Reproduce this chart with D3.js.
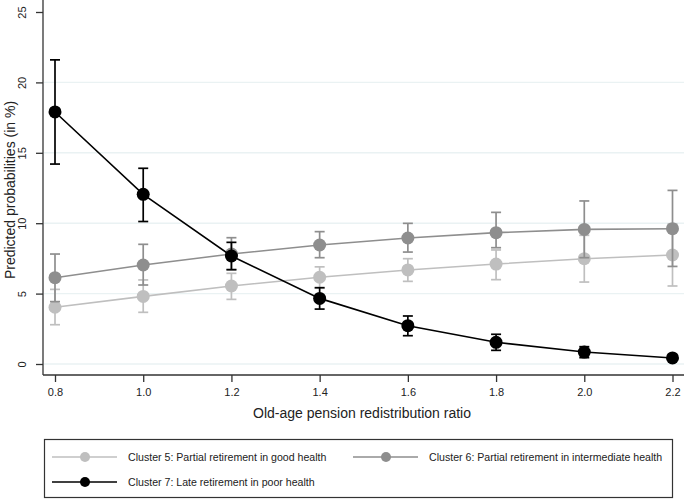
<!DOCTYPE html>
<html>
<head>
<meta charset="utf-8">
<script src="https://cdn.jsdelivr.net/npm/d3@7"></script>
<style>
  body { margin: 0; background: #fff; }
  svg { font-family: "Liberation Sans", Arial, sans-serif; }
</style>
</head>
<body>
<div id="chart"></div>
<script>
const ratios = [0.8, 1.0, 1.2, 1.4, 1.6, 1.8, 2.0, 2.2];

// predicted probabilities (in %) with confidence bounds
const c5Est = [4.03, 4.80, 5.54, 6.16, 6.68, 7.10, 7.48, 7.74];
const c5Lo  = [2.79, 3.67, 4.59, 5.38, 5.87, 5.99, 5.82, 5.54];
const c5Hi  = [5.30, 5.97, 6.44, 6.90, 7.48, 8.10, 9.14, 9.94];

const c6Est = [6.13, 7.03, 7.81, 8.45, 8.95, 9.33, 9.56, 9.61];
const c6Lo  = [4.43, 5.61, 6.70, 7.55, 7.95, 8.26, 7.55, 6.93];
const c6Hi  = [7.81, 8.50, 8.97, 9.40, 9.99, 10.77, 11.58, 12.33];

const c7Est = [17.9, 12.05, 7.67, 4.66, 2.72, 1.54, 0.85, 0.43];
const c7Lo  = [14.2, 10.12, 6.70, 3.90, 2.01, 0.97, 0.45, 0.28];
const c7Hi  = [21.6, 13.90, 8.64, 5.42, 3.41, 2.11, 1.23, 0.60];

const xTicks = [0.8, 1.0, 1.2, 1.4, 1.6, 1.8, 2.0, 2.2];
const yTicks = [0, 5, 10, 15, 20, 25];
const gridTicks = [0, 5, 10, 15, 20];

const seriesNames = [
  "Cluster 5: Partial retirement in good health",
  "Cluster 6: Partial retirement in intermediate health",
  "Cluster 7: Late retirement in poor health"
];
const seriesColors = ["#bfbfbf", "#8e8e8e", "#000000"];

const series = [
  { name: seriesNames[0], color: seriesColors[0], est: c5Est, lo: c5Lo, hi: c5Hi },
  { name: seriesNames[1], color: seriesColors[1], est: c6Est, lo: c6Lo, hi: c6Hi },
  { name: seriesNames[2], color: seriesColors[2], est: c7Est, lo: c7Lo, hi: c7Hi }
];

const W = 685, H = 500;
const margin = { top: 12, right: 1, bottom: 125, left: 43 };

const svg = d3.select("#chart").append("svg")
    .attr("width", W)
    .attr("height", H);

// scales
const x = d3.scaleLinear().domain([0.8, 2.2]).range([55, 672.5]);
const y = d3.scaleLinear().domain([0, 25]).range([364, 12]);

const plotLeft = margin.left, plotRight = W - margin.right, axisY = 375;

// grid lines
svg.append("g").selectAll("line")
    .data(gridTicks)
    .enter().append("line")
    .attr("x1", plotLeft + 1).attr("x2", plotRight)
    .attr("y1", d => y(d)).attr("y2", d => y(d))
    .style("stroke", "#eaf2f3")
    .style("stroke-width", 1.4);

// y axis
const yAxis = svg.append("g")
    .attr("transform", `translate(${plotLeft},0)`)
    .call(d3.axisLeft(y).tickValues(yTicks).tickSize(7).tickPadding(6));
yAxis.select("path.domain").attr("d", `M0,0V${axisY}`);
yAxis.selectAll("path, line").style("stroke", "#333").style("stroke-width", 1.3);
yAxis.selectAll("text")
    .style("font-size", "11px")
    .style("fill", "#222")
    .attr("x", 0).attr("dy", 0)
    .attr("text-anchor", "middle")
    .attr("transform", "translate(-17,0) rotate(-90)");

// x axis
const xAxis = svg.append("g")
    .attr("transform", `translate(0,${axisY})`)
    .call(d3.axisBottom(x).tickValues(xTicks).tickSize(7).tickPadding(6).tickFormat(d3.format(".1f")));
xAxis.select("path.domain").attr("d", `M${plotLeft},0H${plotRight}`);
xAxis.selectAll("path, line").style("stroke", "#333").style("stroke-width", 1.3);
xAxis.selectAll("text").style("font-size", "11px").style("fill", "#222");

// axis titles
svg.append("text")
    .attr("transform", `translate(15,190) rotate(-90)`)
    .attr("text-anchor", "middle")
    .style("font-size", "14px")
    .style("fill", "#222")
    .text("Predicted probabilities (in %)");

svg.append("text")
    .attr("x", 362).attr("y", 418)
    .attr("text-anchor", "middle")
    .style("font-size", "14px")
    .style("fill", "#222")
    .text("Old-age pension redistribution ratio");

// series
const line = d3.line().x((d, i) => x(ratios[i])).y(d => y(d));
const capW = 5;

series.forEach(s => {
  const g = svg.append("g");
  const ci = g.selectAll("g.ci")
      .data(ratios.map((r, i) => ({ r, lo: s.lo[i], hi: s.hi[i] })))
      .enter().append("g").attr("class", "ci")
      .style("stroke", s.color).style("stroke-width", 1.7);
  ci.append("line")
      .attr("x1", d => x(d.r)).attr("x2", d => x(d.r))
      .attr("y1", d => y(d.lo)).attr("y2", d => y(d.hi));
  ci.append("line")
      .attr("x1", d => x(d.r) - capW).attr("x2", d => x(d.r) + capW)
      .attr("y1", d => y(d.lo)).attr("y2", d => y(d.lo));
  ci.append("line")
      .attr("x1", d => x(d.r) - capW).attr("x2", d => x(d.r) + capW)
      .attr("y1", d => y(d.hi)).attr("y2", d => y(d.hi));

  g.append("path")
      .datum(s.est)
      .attr("d", line)
      .style("fill", "none")
      .style("stroke", s.color)
      .style("stroke-width", 1.6);

  g.selectAll("circle")
      .data(s.est)
      .enter().append("circle")
      .attr("cx", (d, i) => x(ratios[i]))
      .attr("cy", d => y(d))
      .attr("r", 6.5)
      .style("fill", s.color);
});

// legend
const legend = svg.append("g");
legend.append("rect")
    .attr("x", 44.5).attr("y", 439.5)
    .attr("width", 628).attr("height", 58)
    .style("fill", "#fff")
    .style("stroke", "#333")
    .style("stroke-width", 1.2);

const legendPos = [
  { x: 52, y: 457 },
  { x: 353, y: 457 },
  { x: 52, y: 482 }
];

series.forEach((s, i) => {
  const p = legendPos[i];
  const item = legend.append("g").attr("transform", `translate(${p.x},${p.y})`);
  item.append("line")
      .attr("x1", 0).attr("x2", 65)
      .attr("y1", 0).attr("y2", 0)
      .style("stroke", s.color).style("stroke-width", 1.6);
  item.append("circle")
      .attr("cx", 33).attr("cy", 0).attr("r", 5)
      .style("fill", s.color);
  item.append("text")
      .attr("x", 76).attr("y", 4)
      .style("font-size", "10.6px")
      .style("fill", "#222")
      .text(s.name);
});
</script>
</body>
</html>
